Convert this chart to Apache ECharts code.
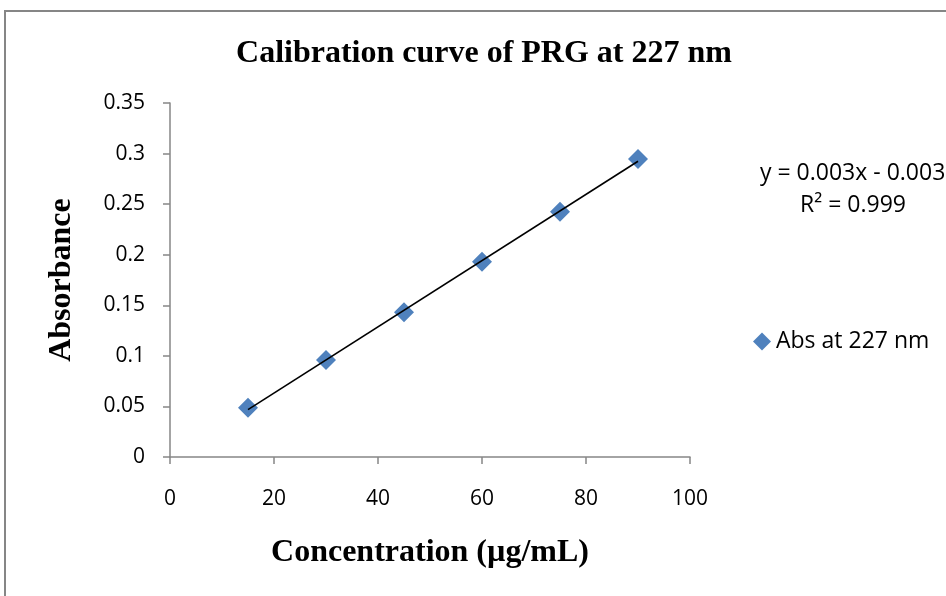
<!DOCTYPE html>
<html>
<head>
<meta charset="utf-8">
<script src="https://cdn.jsdelivr.net/npm/echarts@6/dist/echarts.min.js"></script>
<style>
	html,body{margin:0;padding:0;background:#fff;}
	#chart{width:946px;height:596px;}
</style>
</head>
<body>
<div id="chart"></div>
<script>
var concList = [15, 30, 45, 60, 75, 90];
var absList = [0.0487, 0.0959, 0.1431, 0.1931, 0.2425, 0.2946];
var xTicks = [0, 20, 40, 60, 80, 100];
var yTicks = [0, 0.05, 0.1, 0.15, 0.2, 0.25, 0.3, 0.35];

// least squares trendline from the points
var fitLine = function(xs, ys){
	var n = xs.length, sx = 0, sy = 0, sxy = 0, sxx = 0;
	for(var i = 0; i < n; i++){
		sx += xs[i]; sy += ys[i];
		sxy += xs[i] * ys[i]; sxx += xs[i] * xs[i];
	}
	var slope = (n * sxy - sx * sy) / (n * sxx - sx * sx);
	var icpt = (sy - slope * sx) / n;
	var xa = xs[0], xb = xs[n - 1];
	return [[xa, slope * xa + icpt], [xb, slope * xb + icpt]];
};

var pointData = concList.map(function(c, i){ return [c, absList[i]]; });
var serif = '"Liberation Serif", "Times New Roman", serif';
var sans = '"Open Sans", "Noto Sans", sans-serif';

var calibrationOption = {
	backgroundColor: '#fff',
	animation: false,
	title: {
		text: 'Calibration curve of PRG at 227 nm',
		left: 479,
		top: 33,
		textAlign: 'center',
		textStyle: {
			fontFamily: serif,
			fontWeight: 'bold',
			fontSize: 32,
			color: '#000'
		}
	},
	legend: {
		data: [{name: 'Abs at 227 nm', icon: 'diamond'}],
		left: 748,
		top: 325,
		itemWidth: 18,
		itemHeight: 18,
		itemGap: 4,
		textStyle: {
			fontFamily: sans,
			fontSize: 23,
			color: '#000'
		}
	},
	grid: {
		left: 170,
		right: 256,
		top: 103,
		bottom: 139
	},
	xAxis: {
		type: 'value',
		min: 0,
		max: 100,
		interval: 20,
		name: 'Concentration (µg/mL)',
		nameLocation: 'middle',
		nameGap: 80,
		nameTextStyle: {
			fontFamily: serif,
			fontWeight: 'bold',
			fontSize: 32,
			color: '#000'
		},
		axisLine: {lineStyle: {color: '#868686', width: 1.5}},
		axisTick: {show: true, length: 7, lineStyle: {color: '#868686', width: 1.5}},
		splitLine: {show: false},
		axisLabel: {
			margin: 32,
			fontFamily: sans,
			fontSize: 21,
			color: '#000',
			formatter: function(v){ return xTicks.indexOf(v) > -1 ? String(v) : ''; }
		}
	},
	yAxis: {
		type: 'value',
		min: 0,
		max: 0.35,
		interval: 0.05,
		name: 'Absorbance',
		nameLocation: 'middle',
		nameGap: 92,
		nameTextStyle: {
			fontFamily: serif,
			fontWeight: 'bold',
			fontSize: 32,
			color: '#000'
		},
		axisLine: {show: true, lineStyle: {color: '#868686', width: 1.5}},
		axisTick: {show: true, length: 7, lineStyle: {color: '#868686', width: 1.5}},
		splitLine: {show: false},
		axisLabel: {
			margin: 25,
			fontFamily: sans,
			fontSize: 21,
			color: '#000',
			formatter: function(v){
				var t = yTicks.filter(function(y){ return Math.abs(y - v) < 1e-9; });
				return t.length ? String(t[0]) : '';
			}
		}
	},
	series: [
		{
			name: 'trend',
			type: 'line',
			data: fitLine(concList, absList),
			symbol: 'none',
			silent: true,
			lineStyle: {color: '#000', width: 1.6},
			z: 3
		},
		{
			name: 'Abs at 227 nm',
			type: 'scatter',
			data: pointData,
			symbol: 'diamond',
			symbolSize: 20,
			itemStyle: {color: '#4F81BD', opacity: 1},
			z: 2
		}
	],
	graphic: [
		{
			type: 'rect',
			shape: {x: 5, y: 11, width: 1000, height: 700},
			style: {fill: 'none', stroke: '#868686', lineWidth: 2},
			silent: true
		},
		{
			type: 'text',
			left: 760,
			top: 162,
			style: {
				text: 'y = 0.003x - 0.003',
				font: '23px ' + sans,
				fill: '#000'
			}
		},
		{
			type: 'text',
			left: 800,
			top: 194,
			style: {
				text: 'R² = 0.999',
				font: '23px ' + sans,
				fill: '#000'
			}
		}
	]
};

var calibrationChart = echarts.init(document.getElementById('chart'));
calibrationChart.setOption(calibrationOption);
</script>
</body>
</html>
